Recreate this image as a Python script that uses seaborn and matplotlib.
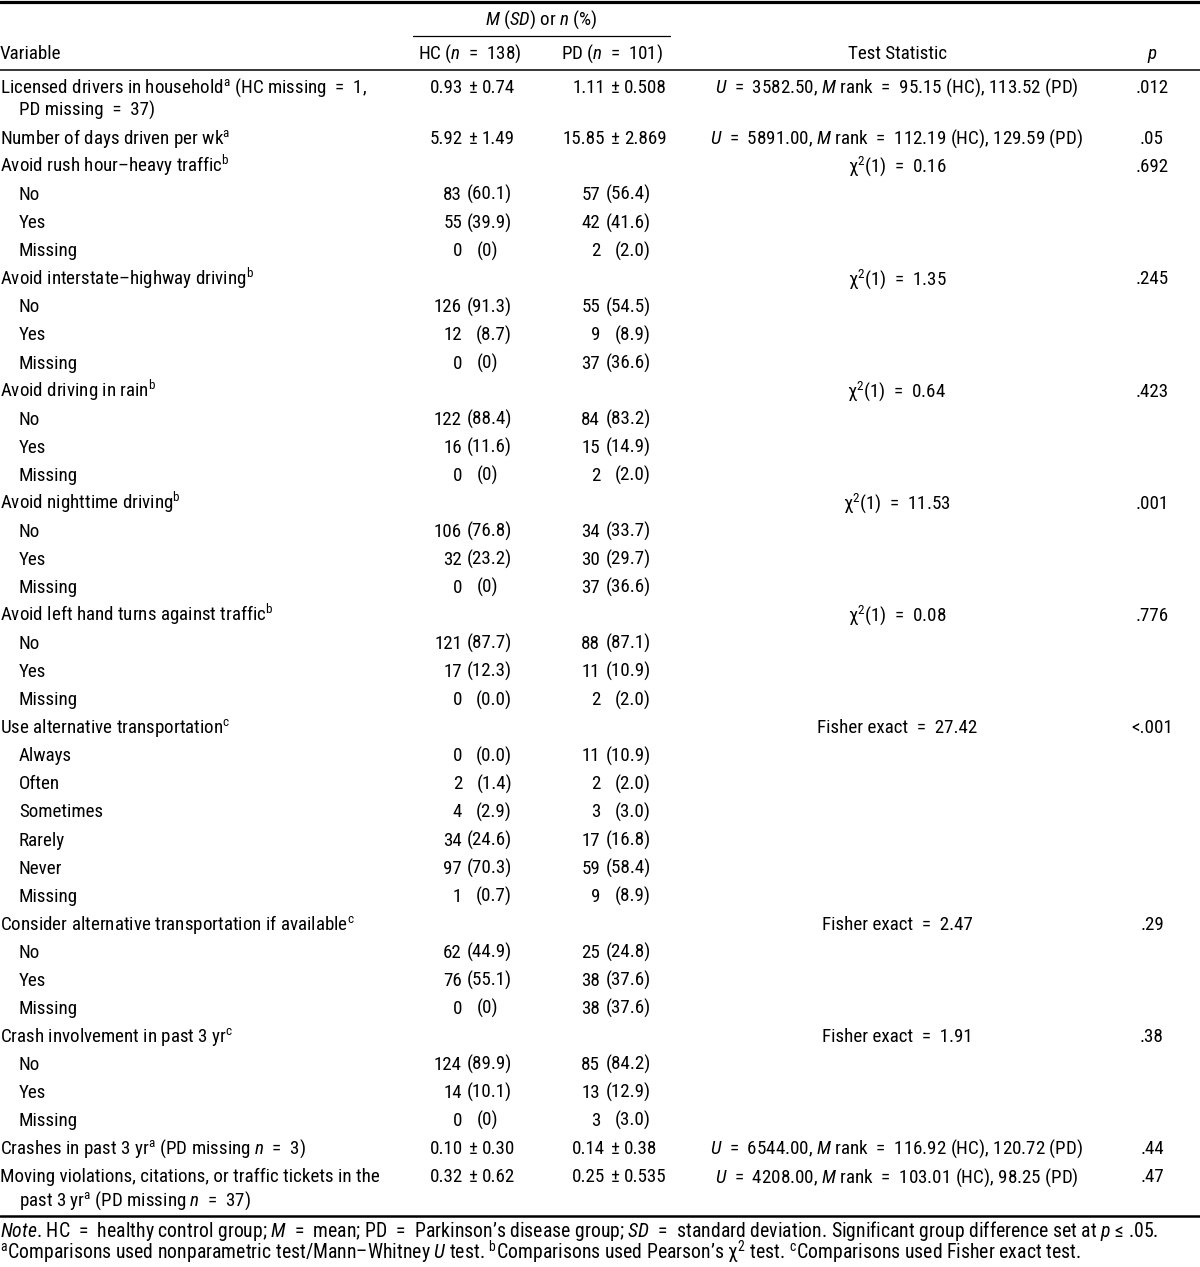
import matplotlib
matplotlib.use("Agg")
import matplotlib.pyplot as plt
import seaborn as sns

# Tabellens innehåll, rad för rad
labels = [
    "Licensed drivers in household$^{\\mathrm{a}}$ (HC missing = 1,\nPD missing = 37)",
    "Number of days driven per wk$^{\\mathrm{a}}$",
    "Avoid rush hour\u2013heavy traffic$^{\\mathrm{b}}$", "No", "Yes", "Missing",
    "Avoid interstate\u2013highway driving$^{\\mathrm{b}}$", "No", "Yes", "Missing",
    "Avoid driving in rain$^{\\mathrm{b}}$", "No", "Yes", "Missing",
    "Avoid nighttime driving$^{\\mathrm{b}}$", "No", "Yes", "Missing",
    "Avoid left hand turns against traffic$^{\\mathrm{b}}$", "No", "Yes", "Missing",
    "Use alternative transportation$^{\\mathrm{c}}$",
    "Always", "Often", "Sometimes", "Rarely", "Never", "Missing",
    "Consider alternative transportation if available$^{\\mathrm{c}}$", "No", "Yes", "Missing",
    "Crash involvement in past 3 yr$^{\\mathrm{c}}$", "No", "Yes", "Missing",
    "Crashes in past 3 yr$^{\\mathrm{a}}$ (PD missing $n$ = 3)",
    "Moving violations, citations, or traffic tickets in the\npast 3 yr$^{\\mathrm{a}}$ (PD missing $n$ = 37)",
]
levels = {"No", "Yes", "Missing", "Always", "Often", "Sometimes", "Rarely", "Never"}

hc_values = [
    "0.93 \u00b1 0.74", "5.92 \u00b1 1.49",
    "", "83 (60.1)", "55 (39.9)", "0 (0)",
    "", "126 (91.3)", "12 (8.7)", "0 (0)",
    "", "122 (88.4)", "16 (11.6)", "0 (0)",
    "", "106 (76.8)", "32 (23.2)", "0 (0)",
    "", "121 (87.7)", "17 (12.3)", "0 (0.0)",
    "", "0 (0.0)", "2 (1.4)", "4 (2.9)", "34 (24.6)", "97 (70.3)", "1 (0.7)",
    "", "62 (44.9)", "76 (55.1)", "0 (0)",
    "", "124 (89.9)", "14 (10.1)", "0 (0)",
    "0.10 \u00b1 0.30", "0.32 \u00b1 0.62",
]
pd_values = [
    "1.11 \u00b1 0.508", "15.85 \u00b1 2.869",
    "", "57 (56.4)", "42 (41.6)", "2 (2.0)",
    "", "55 (54.5)", "9 (8.9)", "37 (36.6)",
    "", "84 (83.2)", "15 (14.9)", "2 (2.0)",
    "", "34 (33.7)", "30 (29.7)", "37 (36.6)",
    "", "88 (87.1)", "11 (10.9)", "2 (2.0)",
    "", "11 (10.9)", "2 (2.0)", "3 (3.0)", "17 (16.8)", "59 (58.4)", "9 (8.9)",
    "", "25 (24.8)", "38 (37.6)", "38 (37.6)",
    "", "85 (84.2)", "13 (12.9)", "3 (3.0)",
    "0.14 \u00b1 0.38", "0.25 \u00b1 0.535",
]
chi = "\u03c7$^{\\mathrm{2}}$(1) = "
test_stats = [
    "$U$ = 3582.50, $M$ rank = 95.15 (HC), 113.52 (PD)",
    "$U$ = 5891.00, $M$ rank = 112.19 (HC), 129.59 (PD)",
    chi + "0.16", "", "", "",
    chi + "1.35", "", "", "",
    chi + "0.64", "", "", "",
    chi + "11.53", "", "", "",
    chi + "0.08", "", "", "",
    "Fisher exact = 27.42", "", "", "", "", "", "",
    "Fisher exact = 2.47", "", "", "",
    "Fisher exact = 1.91", "", "", "",
    "$U$ = 6544.00, $M$ rank = 116.92 (HC), 120.72 (PD)",
    "$U$ = 4208.00, $M$ rank = 103.01 (HC), 98.25 (PD)",
]
p_values = [
    ".012", ".05",
    ".692", "", "", "",
    ".245", "", "", "",
    ".423", "", "", "",
    ".001", "", "", "",
    ".776", "", "", "",
    "<.001", "", "", "", "", "", "",
    ".29", "", "", "",
    ".38", "", "", "",
    ".44", ".47",
]

sns.set_theme(style="white")
FONT = "Roboto Condensed"
plt.rcParams["font.family"] = [FONT, "Liberation Sans", "DejaVu Sans"]
plt.rcParams["mathtext.fontset"] = "custom"
plt.rcParams["mathtext.rm"] = FONT
plt.rcParams["mathtext.it"] = FONT + ":italic"
plt.rcParams["mathtext.bf"] = FONT + ":bold"

FS = 13.7
fig = plt.figure(figsize=(12, 12.67), dpi=100)
ax = fig.add_axes([0, 0, 1, 1])
ax.set_xlim(0, 1200)
ax.set_ylim(1267, 0)
ax.axis("off")


def txt(x, y, s, ha="left", size=FS):
    # bredare mellanrum runt likhetstecken, som i förlagan
    s = s.replace(" = ", "  =  ")
    ax.text(x, y + 6, s, ha=ha, va="baseline", fontsize=size, color="black")


def draw_value(y, s, x_n, x_pct, x_pm):
    if not s:
        return
    if "\u00b1" in s:
        # justera på ±-tecknet
        left, right = s.split(" \u00b1 ")
        txt(x_pm - 9, y, left, ha="right")
        txt(x_pm, y, "\u00b1", ha="center")
        txt(x_pm + 10, y, right, ha="left")
    else:
        n, pct = s.split(" ", 1)
        txt(x_n, y, n, ha="right")
        if "." in pct:
            txt(x_pct, y, pct, ha="right")
        else:
            txt(x_pct - 14, y, pct, ha="right")


# Linjer
ax.plot([0, 1200], [1.5, 1.5], color="black", lw=2.3)
ax.plot([413, 670], [36, 36], color="black", lw=0.9)
ax.plot([0, 1200], [69.5, 69.5], color="black", lw=1.1)
ax.plot([0, 1200], [1216, 1216], color="black", lw=1.8)

# Rubriker
txt(541, 19, "$M$ ($SD$) or $n$ (%)", ha="center")
txt(0, 53, "Variable")
txt(470, 53, "HC ($n$ = 138)", ha="center")
txt(612, 53, "PD ($n$ = 101)", ha="center")
txt(898, 53, "Test Statistic", ha="center")
txt(1152, 53, "$p$", ha="center")

y = 87
for lab, hc, pdv, st, pv in zip(labels, hc_values, pd_values, test_stats, p_values):
    lines = lab.split("\n")
    x0 = 19 if lab in levels else 0
    for i, line in enumerate(lines):
        txt(x0 + (19 if i > 0 else 0), y + 23 * i, line)
    draw_value(y, hc, 462, 512, 472)
    draw_value(y, pdv, 600, 651, 614)
    if st:
        txt(897, y, st, ha="center")
    if pv:
        txt(1152, y, pv, ha="center")
    y += 28.06 + 23 * (len(lines) - 1)

# Fotnoter
fn = 14.2
txt(0, 1231, "$Note$. HC = healthy control group; $M$ = mean; PD = Parkinson\u2019s disease group; "
    "$SD$ = standard deviation. Significant group difference set at $p$ \u2264 .05.", size=fn)
txt(0, 1253, "$^{\\mathrm{a}}$Comparisons used nonparametric test/Mann\u2013Whitney $U$ test. "
    "$^{\\mathrm{b}}$Comparisons used Pearson\u2019s \u03c7$^{\\mathrm{2}}$ test. "
    "$^{\\mathrm{c}}$Comparisons used Fisher exact test.", size=fn)

fig.savefig("out.png", dpi=100, facecolor="white")
